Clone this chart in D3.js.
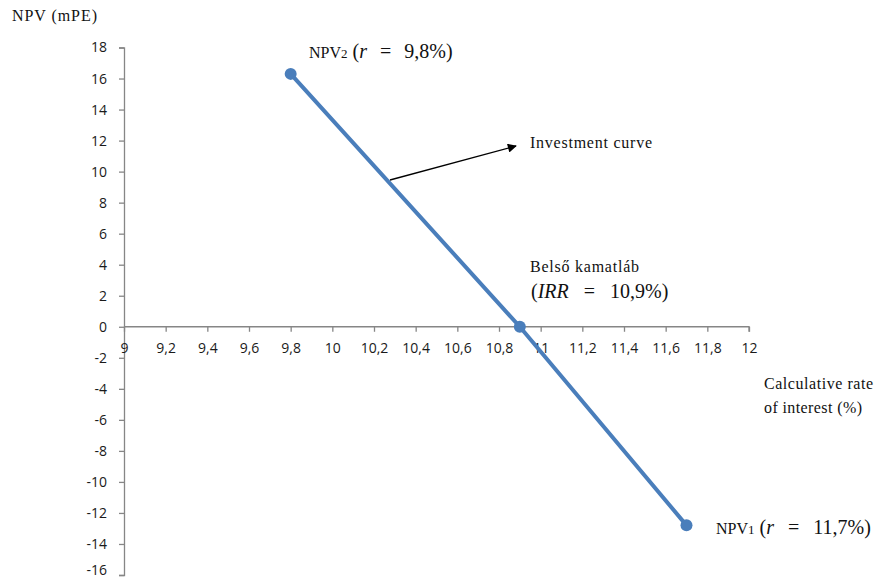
<!DOCTYPE html>
<html><head><meta charset="utf-8">
<script src="https://cdn.jsdelivr.net/npm/d3@7"></script>
<style>body{margin:0;background:#fff}</style>
</head><body>
<svg id="c" width="877" height="580"></svg>
<script>
const rates = [9.8, 10.9, 11.7];
const npvs = [16.3, 0, -12.8];
const xTicks = [9, 9.2, 9.4, 9.6, 9.8, 10, 10.2, 10.4, 10.6, 10.8, 11, 11.2, 11.4, 11.6, 11.8, 12];
const yTicks = [-16, -14, -12, -10, -8, -6, -4, -2, 0, 2, 4, 6, 8, 10, 12, 14, 16, 18];

const svg = d3.select("#c");
const x = d3.scaleLinear().domain([9, 12]).range([124, 749]);
const y = d3.scaleLinear().domain([-16, 18]).range([575, 47.5]);
const fmt = d => String(d).replace(".", ",");
const axisColor = "#868686";
const tickFont = "'Open Sans', 'DejaVu Sans', sans-serif";
const serif = "'Liberation Serif', 'DejaVu Serif', serif";

// y axis
const ya = svg.append("g").attr("transform", `translate(${x(9)},0)`)
  .call(d3.axisLeft(y).tickValues(yTicks).tickSize(5).tickPadding(12).tickFormat(fmt));
ya.select(".domain").attr("stroke", axisColor).attr("stroke-width", 1.3);
ya.selectAll(".tick line").attr("stroke", axisColor).attr("stroke-width", 1.3);
ya.selectAll(".tick text").attr("fill", "#1a1a1a").style("font-family", tickFont).style("font-size", "14px");
ya.selectAll(".tick text").filter(d => d === -16).attr("dy", "-0.05em");

// x axis at y=0
const xa = svg.append("g").attr("transform", `translate(0,${y(0)})`)
  .call(d3.axisBottom(x).tickValues(xTicks).tickSize(5).tickPadding(11).tickFormat(fmt));
xa.select(".domain").attr("stroke", axisColor).attr("stroke-width", 1.3).attr("d", `M${x(9)},0H${x(12)}V5`);
xa.selectAll(".tick line").attr("stroke", axisColor).attr("stroke-width", 1.3);
xa.selectAll(".tick text").attr("fill", "#1a1a1a").style("font-family", tickFont).style("font-size", "14px");

// line
const pts = rates.map((r, i) => [r, npvs[i]]);
svg.append("path").datum(pts)
  .attr("fill", "none").attr("stroke", "#4a7ebb").attr("stroke-width", 4)
  .attr("d", d3.line().x(d => x(d[0])).y(d => y(d[1])));
svg.selectAll("circle.pt").data(pts).enter().append("circle")
  .attr("cx", d => x(d[0])).attr("cy", d => y(d[1])).attr("r", 6).attr("fill", "#4a7ebb");

// arrow
const defs = svg.append("defs");
defs.append("marker").attr("id", "ah").attr("viewBox", "0 0 10 10").attr("refX", 9).attr("refY", 5)
  .attr("markerWidth", 10).attr("markerHeight", 9).attr("markerUnits", "userSpaceOnUse").attr("orient", "auto")
  .append("path").attr("d", "M0,0L10,5L0,10z").attr("fill", "#000");
svg.append("line").attr("x1", 390).attr("y1", 180).attr("x2", 516).attr("y2", 146)
  .attr("stroke", "#000").attr("stroke-width", 1.3).attr("marker-end", "url(#ah)");

function label(xp, yp, parts, len) {
  const t = svg.append("text").attr("x", xp).attr("y", yp).attr("fill", "#111");
  parts.forEach(p => {
    const ts = t.append("tspan").text(p.t).style("font-family", serif).style("font-size", (p.s || 16) + "px");
    if (p.i) ts.style("font-style", "italic");
    if (p.dx) ts.attr("dx", p.dx);
  });
  if (len) t.attr("textLength", len).attr("lengthAdjust", "spacing");
  return t;
}

label(12, 21, [{t: "NPV (mPE)", s: 16}], 85);
label(309, 58, [{t: "NPV", s: 16}, {t: "2", s: 13}, {t: " (", s: 20}, {t: "r", s: 20, i: true},
  {t: "=", s: 20, dx: 13}, {t: "9,8%)", s: 20, dx: 13}]);
label(530, 148, [{t: "Investment curve", s: 16}], 122);
label(530, 272, [{t: "Belső kamatláb", s: 16}], 109);
label(531, 298, [{t: "(", s: 20}, {t: "IRR", s: 20, i: true}, {t: "=", s: 20, dx: 15}, {t: "10,9%)", s: 20, dx: 15}]);
label(764, 389, [{t: "Calculative rate", s: 16}], 109);
label(764, 413, [{t: "of interest (%)", s: 16}], 98);
label(716, 534, [{t: "NPV", s: 16}, {t: "1", s: 13}, {t: " (", s: 20}, {t: "r", s: 20, i: true},
  {t: "=", s: 20, dx: 14}, {t: "11,7%)", s: 20, dx: 14}]);
</script>
</body></html>
